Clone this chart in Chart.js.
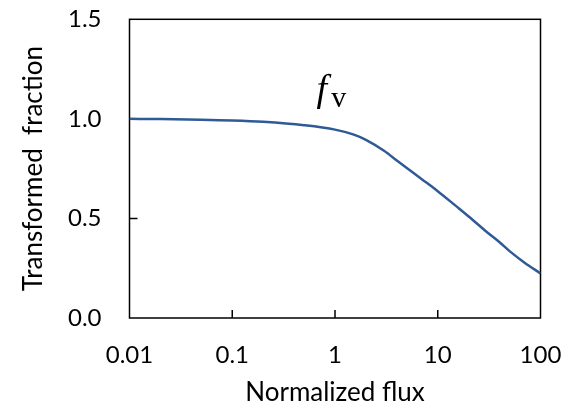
<!DOCTYPE html>
<html>
<head>
<meta charset="utf-8">
<script src="https://cdn.jsdelivr.net/npm/chart.js@4/dist/chart.umd.min.js"></script>
<style>
  html, body { margin: 0; padding: 0; background: #ffffff; }
  #wrap { width: 575px; height: 406px; }
</style>
</head>
<body>
<div id="wrap"><canvas id="c" width="575" height="406"></canvas></div>
<script>
// Data
const fluxValues = [0.01, 0.02, 0.05, 0.1, 0.2, 0.5, 1, 1.5, 2, 3, 4, 5, 7, 10, 15, 20, 30, 40, 50, 70, 100];
const fractionValues = [1.000, 0.999, 0.996, 0.992, 0.985, 0.968, 0.946, 0.922, 0.895, 0.840, 0.791, 0.753, 0.697, 0.637, 0.563, 0.510, 0.432, 0.380, 0.336, 0.278, 0.224];
const xTickValues = [0.01, 0.1, 1, 10, 100];
const xTickLabels = ["0.01", "0.1", "1", "10", "100"];
const yTickValues = [0, 0.5, 1.0, 1.5];
const yTickLabels = ["0.0", "0.5", "1.0", "1.5"];
const xTitle = "Normalized flux";
const yTitle = "Transformed  fraction";
const seriesLabelMain = "f";
const seriesLabelSub = "v";
// annotation anchor (data coordinates)
const labelMainAt = { x: 0.66, y: 1.09 };
const labelSubAt = { x: 0.92, y: 1.06 };

const points = fluxValues.map((x, i) => ({ x: x, y: fractionValues[i] }));
const LABEL_FONT = "Lato, 'Open Sans', sans-serif";

const framePlugin = {
  id: 'frame',
  beforeDatasetsDraw(chart) {
    const { ctx, chartArea: a, scales } = chart;
    ctx.save();
    ctx.strokeStyle = '#000000';
    ctx.lineWidth = 1.5;
    ctx.strokeRect(a.left, a.top, a.right - a.left, a.bottom - a.top);
    ctx.beginPath();
    const tl = 8;
    xTickValues.forEach(v => {
      const px = scales.x.getPixelForValue(v);
      if (px > a.left + 1 && px < a.right - 1) {
        ctx.moveTo(px, a.bottom);
        ctx.lineTo(px, a.bottom - tl);
      }
    });
    yTickValues.forEach(v => {
      const py = scales.y.getPixelForValue(v);
      if (py > a.top + 1 && py < a.bottom - 1) {
        ctx.moveTo(a.left, py);
        ctx.lineTo(a.left + tl, py);
      }
    });
    ctx.stroke();
    ctx.restore();
  },
  afterDatasetsDraw(chart) {
    const { ctx, scales } = chart;
    ctx.save();
    ctx.fillStyle = '#000000';
    ctx.textBaseline = 'alphabetic';
    ctx.textAlign = 'left';
    ctx.font = "italic 38px 'Liberation Serif', 'DejaVu Serif', serif";
    ctx.fillText(seriesLabelMain, scales.x.getPixelForValue(labelMainAt.x), scales.y.getPixelForValue(labelMainAt.y));
    ctx.font = "30px 'Liberation Serif', 'DejaVu Serif', serif";
    ctx.fillText(seriesLabelSub, scales.x.getPixelForValue(labelSubAt.x), scales.y.getPixelForValue(labelSubAt.y));
    ctx.restore();
  }
};

new Chart(document.getElementById('c'), {
  type: 'line',
  data: {
    datasets: [{
      data: points,
      borderColor: '#2F5A96',
      borderWidth: 2.5,
      pointRadius: 0,
      fill: false,
      cubicInterpolationMode: 'monotone'
    }]
  },
  options: {
    responsive: false,
    animation: false,
    devicePixelRatio: 1,
    layout: { padding: { top: 19.3, right: 34.5, bottom: 0, left: 0 } },
    plugins: { legend: { display: false }, tooltip: { enabled: false } },
    scales: {
      x: {
        type: 'logarithmic',
        min: 0.01,
        max: 100,
        afterBuildTicks(scale) {
          scale.ticks = xTickValues.map(v => ({ value: v, major: true }));
        },
        afterFit(scale) {
          scale.height = 88;
          scale.paddingLeft = 0; scale.paddingRight = 0;
          scale.paddingTop = 0; scale.paddingBottom = 0;
        },
        grid: { display: false, drawTicks: false },
        border: { display: false },
        ticks: {
          color: '#000000',
          font: { family: LABEL_FONT, size: 24 },
          padding: 23,
          autoSkip: false,
          maxRotation: 0,
          callback: (v) => {
            const i = xTickValues.indexOf(v);
            return i >= 0 ? xTickLabels[i] : '';
          }
        },
        title: {
          display: true,
          text: xTitle,
          color: '#000000',
          font: { family: LABEL_FONT, size: 26, lineHeight: 1 },
          padding: { top: 0, bottom: 0 }
        }
      },
      y: {
        type: 'linear',
        min: 0,
        max: 1.5,
        afterBuildTicks(scale) {
          scale.ticks = yTickValues.map(v => ({ value: v }));
        },
        afterFit(scale) {
          scale.width = 129.5;
          scale.paddingLeft = 0; scale.paddingRight = 0;
          scale.paddingTop = 0; scale.paddingBottom = 0;
        },
        grid: { display: false, drawTicks: false },
        border: { display: false },
        ticks: {
          color: '#000000',
          font: { family: LABEL_FONT, size: 24 },
          padding: 28,
          callback: (v) => {
            const i = yTickValues.indexOf(v);
            return i >= 0 ? yTickLabels[i] : '';
          }
        },
        title: {
          display: true,
          text: yTitle,
          color: '#000000',
          font: { family: LABEL_FONT, size: 26 },
          padding: { top: 18.4, bottom: 0 }
        }
      }
    }
  },
  plugins: [framePlugin]
});
</script>
</body>
</html>
